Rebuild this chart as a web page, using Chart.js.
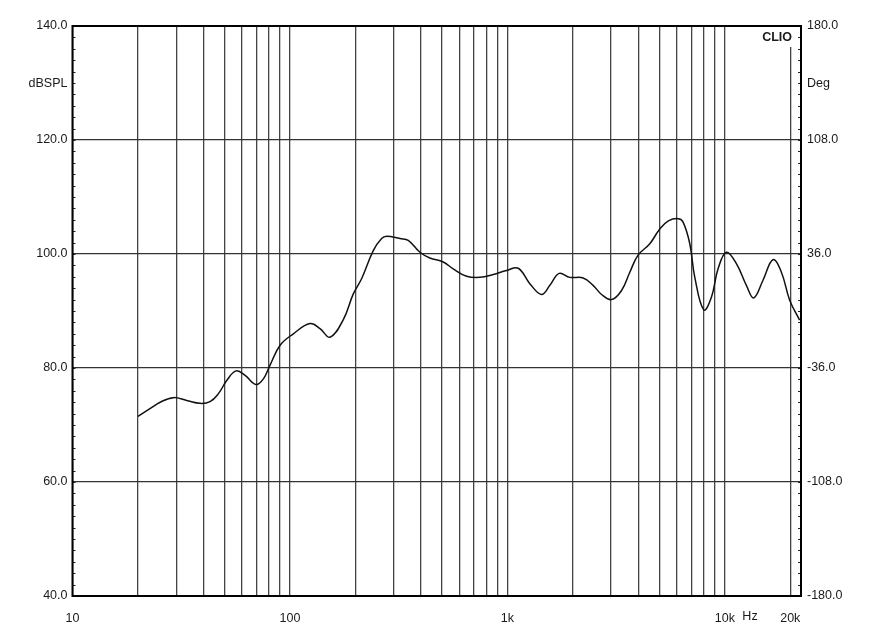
<!DOCTYPE html>
<html>
<head>
<meta charset="utf-8">
<script src="https://cdn.jsdelivr.net/npm/chart.js@4/dist/chart.umd.min.js"></script>
<style>
  html, body { margin: 0; padding: 0; background: #ffffff; }
  #wrap { width: 880px; height: 632px; position: relative; }
</style>
</head>
<body>
<div id="wrap"><canvas id="c" width="880" height="632"></canvas></div>
<script>
// ---- data ----
const freqHz = [20, 22.8, 25.3, 29.1, 33.5, 38.6, 42.9, 46.9, 51.2, 56.5, 62.2, 69.8, 75.5, 81, 90.1,
  103.7, 123.7, 137.5, 152.9, 176, 195.6, 213.8, 241.7, 264, 278.5, 320.6, 350, 396, 440, 507, 563,
  649, 748, 861, 991, 1122, 1268, 1436, 1568, 1730, 1937, 2230, 2479, 2710, 3012, 3349, 3656, 3990,
  4518, 5023, 5500, 6095, 6427, 6900, 7275, 8000, 8674, 9308, 10170, 11300, 12560, 13580, 14980,
  16650, 18200, 19870, 22080];
const splDb = [71.5, 72.9, 74.0, 74.8, 74.3, 73.8, 74.1, 75.5, 77.8, 79.5, 78.7, 77.1, 78.1, 80.5, 84.0,
  86.0, 87.8, 86.9, 85.4, 88.5, 93.0, 95.7, 100.6, 102.7, 103.1, 102.7, 102.4, 100.3, 99.3, 98.6, 97.4,
  96.1, 95.9, 96.4, 97.1, 97.5, 94.8, 92.9, 94.5, 96.6, 95.9, 95.8, 94.5, 92.9, 92.0, 93.6, 96.8, 99.8,
  101.8, 104.4, 105.8, 106.2, 105.6, 101.8, 95.9, 90.2, 92.4, 97.4, 100.3, 98.3, 94.5, 92.3, 95.4,
  99.0, 96.8, 91.9, 88.4];
const xGridHz = [10, 20, 30, 40, 50, 60, 70, 80, 90, 100, 200, 300, 400, 500, 600, 700, 800, 900,
  1000, 2000, 3000, 4000, 5000, 6000, 7000, 8000, 9000, 10000, 20000];
const xLabels = { 10: '10', 100: '100', 1000: '1k', 10000: '10k', 20000: '20k' };
const yLeftTicks = [40, 60, 80, 100, 120, 140];
const yRightTicks = [-180, -108, -36, 36, 108, 180];

const FONT = "'Liberation Sans', Arial, sans-serif";
const TXT = '#1a1a1a';
const FS = 12.5;

const framePlugin = {
  id: 'frame',
  afterDraw(chart) {
    const { ctx, chartArea: a, scales } = chart;
    const y = scales.y;
    ctx.save();
    // minor ticks inside both vertical edges
    ctx.strokeStyle = '#222';
    ctx.lineWidth = 1;
    for (let v = 42; v < 140; v += 2) {
      const py = Math.round(y.getPixelForValue(v)) + 0.5;
      ctx.beginPath();
      ctx.moveTo(a.left, py); ctx.lineTo(a.left + 3, py);
      ctx.moveTo(a.right - 3, py); ctx.lineTo(a.right, py);
      ctx.stroke();
    }
    // clear space for CLIO label
    ctx.fillStyle = '#fff';
    ctx.fillRect(a.right - 42, a.top + 1, 38, 20);
    // frame
    ctx.strokeStyle = '#000';
    ctx.lineWidth = 2;
    ctx.strokeRect(a.left, a.top, a.right - a.left, a.bottom - a.top);
    // texts
    ctx.fillStyle = TXT;
    ctx.font = FS + 'px ' + FONT;
    ctx.textBaseline = 'middle';
    ctx.textAlign = 'right';
    ctx.fillText('dBSPL', a.left - 5, 84);
    ctx.textAlign = 'left';
    ctx.fillText('Deg', a.right + 6, 84);
    ctx.textAlign = 'center';
    ctx.fillText('Hz', 750, 617);
    ctx.font = 'bold ' + FS + 'px ' + FONT;
    ctx.textAlign = 'right';
    ctx.fillText('CLIO', a.right - 9, 38);
    ctx.restore();
  }
};

new Chart(document.getElementById('c'), {
  type: 'line',
  data: {
    datasets: [{
      data: freqHz.map((f, i) => ({ x: f, y: splDb[i] })),
      borderColor: '#111',
      borderWidth: 1.5,
      pointRadius: 0,
      fill: false,
      tension: 0.4,
      yAxisID: 'y'
    }]
  },
  options: {
    responsive: false,
    animation: false,
    events: [],
    layout: { padding: { top: 26, left: 0, right: 0, bottom: 0 } },
    plugins: { legend: { display: false }, tooltip: { enabled: false } },
    scales: {
      x: {
        type: 'logarithmic',
        min: 10,
        max: 22400,
        afterBuildTicks(scale) { scale.ticks = xGridHz.map(v => ({ value: v })); },
        afterFit(scale) { scale.height = 36; },
        grid: { color: '#444', lineWidth: 1.3, drawTicks: false },
        border: { display: false },
        ticks: {
          autoSkip: false, maxRotation: 0, minRotation: 0, padding: 15,
          color: TXT, font: { family: FONT, size: FS },
          callback: (v) => xLabels[v] || ''
        }
      },
      y: {
        type: 'linear', position: 'left', min: 40, max: 140,
        afterBuildTicks(scale) { scale.ticks = yLeftTicks.map(v => ({ value: v })); },
        afterFit(scale) { scale.width = 72.5; },
        grid: { color: '#333', lineWidth: 1.3, drawTicks: false },
        border: { display: false },
        ticks: {
          padding: 5, color: TXT, font: { family: FONT, size: FS },
          callback: (v) => Number(v).toFixed(1)
        }
      },
      y2: {
        type: 'linear', position: 'right', min: -180, max: 180,
        afterBuildTicks(scale) { scale.ticks = yRightTicks.map(v => ({ value: v })); },
        afterFit(scale) { scale.width = 79; },
        grid: { display: false, drawTicks: false },
        border: { display: false },
        ticks: {
          padding: 6, color: TXT, font: { family: FONT, size: FS },
          callback: (v) => Number(v).toFixed(1)
        }
      }
    }
  },
  plugins: [framePlugin]
});
</script>
</body>
</html>
